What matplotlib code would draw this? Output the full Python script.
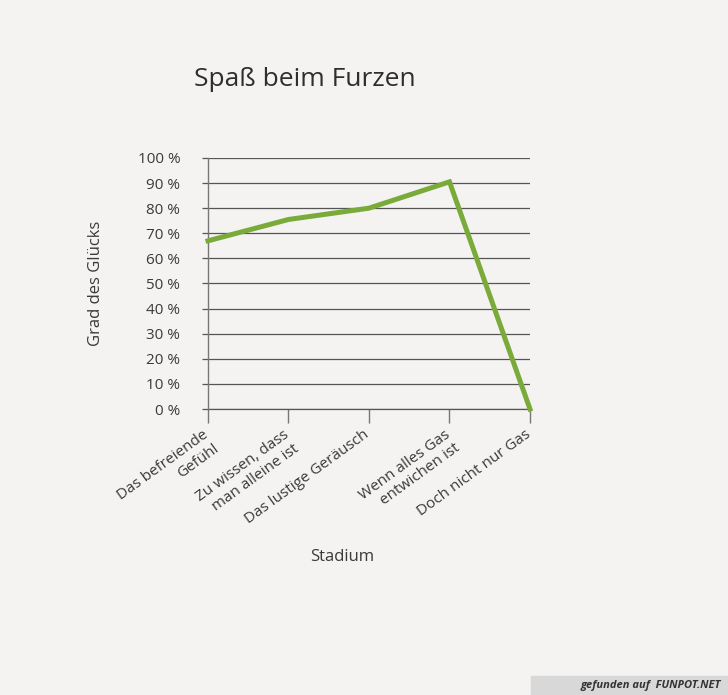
import numpy as np
import matplotlib.pyplot as plt
import matplotlib.transforms as mtransforms

plt.rcParams['font.family'] = ['Open Sans', 'DejaVu Sans']

# Daten
stadien = ["Das befreiende\nGefühl", "Zu wissen, dass\nman alleine ist", "Das lustige Geräusch",
           "Wenn alles Gas\nentwichen ist", "Doch nicht nur Gas"]
glueck = [67, 75.5, 80, 90.5, 0]
y_ticks = list(range(0, 101, 10))
y_labels = [f"{v} %" for v in y_ticks]

papier = "#f4f3f1"
text_farbe = "#3a3a3a"
gitter = "#555555"

fig = plt.figure(figsize=(7.28, 6.95), dpi=100, facecolor=papier)
ax = fig.add_axes([0.2857, 0.4115, 0.4423, 0.3612], facecolor=papier)

x = np.arange(len(stadien))
ax.plot(x, glueck, color="#7aab3a", lw=3.6, solid_joinstyle="miter", zorder=3, clip_on=False)

ax.set_xlim(0, len(stadien) - 1)
ax.set_ylim(0, 100)
ax.set_yticks(y_ticks)
ax.set_yticklabels(y_labels, fontsize=11, color=text_farbe)
ax.grid(axis="y", color=gitter, lw=0.9)
ax.axhline(0, color=gitter, lw=0.9, clip_on=False, zorder=2)
ax.tick_params(axis="y", length=4, color=gitter, width=0.9, pad=16)

ax.set_xticks(x)
ax.set_xticklabels(stadien, rotation=36, ha="right", rotation_mode="anchor",
                   fontsize=11, color=text_farbe, multialignment="right")
ax.tick_params(axis="x", length=10, color="#777777", width=1, pad=4)
# Beschriftungen etwas nach links schieben
versatz = mtransforms.ScaledTranslation(-4 / 72, 1 / 72, fig.dpi_scale_trans)
for lbl in ax.get_xticklabels():
    lbl.set_transform(lbl.get_transform() + versatz)

for s in ["top", "right", "bottom"]:
    ax.spines[s].set_visible(False)
ax.spines["left"].set_color("#777777")
ax.spines["left"].set_linewidth(1)

ax.set_ylabel("Grad des Glücks", fontsize=12, color=text_farbe, labelpad=24)
fig.text(342 / 728, 1 - 557 / 695, "Stadium", fontsize=12, color=text_farbe,
         ha="center", va="center")
fig.text(305 / 728, 1 - 79 / 695, "Spaß beim Furzen", fontsize=19, color="#2e2e2e",
         ha="center", va="center")

# Fundstelle unten rechts
fig.patches.append(plt.Rectangle((0.73, 0), 0.27, 0.028, transform=fig.transFigure,
                                 color="#d8d8d8", zorder=0))
fig.text(0.99, 0.013, "gefunden auf  FUNPOT.NET", fontsize=8, color="#333333",
         ha="right", va="center", fontweight="bold", style="italic")

fig.savefig("out.png", dpi=100, facecolor=papier)
